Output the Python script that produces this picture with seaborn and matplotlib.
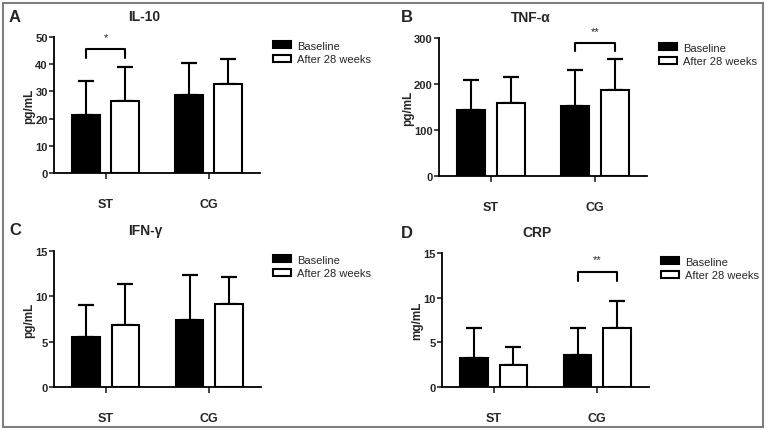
import pandas as pd
import matplotlib
matplotlib.use("Agg")
import matplotlib.pyplot as plt
import seaborn as sns
from matplotlib.patches import Rectangle

sns.set_style("white")
plt.rcParams['font.family'] = ['Liberation Sans', 'DejaVu Sans']

groups = ['ST', 'CG']
timepoints = ['Baseline', 'After 28 weeks']

# mean and SD per group, one list per time point
il10_base = [21.3, 28.5]
il10_after = [26.4, 32.6]
il10_base_sd = [12.5, 11.8]
il10_after_sd = [12.7, 9.2]

tnf_base = [143, 152]
tnf_after = [158, 188]
tnf_base_sd = [65, 78]
tnf_after_sd = [58, 67]

ifn_base = [5.5, 7.35]
ifn_after = [6.8, 9.1]
ifn_base_sd = [3.5, 5.0]
ifn_after_sd = [4.6, 3.0]

crp_base = [3.2, 3.6]
crp_after = [2.5, 6.6]
crp_base_sd = [3.4, 3.05]
crp_after_sd = [2.0, 3.0]

W, H = 767, 431
fig = plt.figure(figsize=(W / 100, H / 100), dpi=100)


def px_axes(left, top, right, bottom):
    return fig.add_axes([left / W, 1 - bottom / H, (right - left) / W, (bottom - top) / H])


panels = [
    # letter, title, ylabel, base, after, base_sd, after_sd, ymax, step, axes box px, legend px, title x, sig
    ('A', 'IL-10', 'pg/mL', il10_base, il10_after, il10_base_sd, il10_after_sd, 50, 10,
     (54, 38, 260, 174), (273, 41.5), 0.44, ('ST', '*', 42.4, 45.7, 50)),
    ('B', 'TNF-α', 'pg/mL', tnf_base, tnf_after, tnf_base_sd, tnf_after_sd, 300, 100,
     (439, 39, 647, 177), (659, 43.5), 0.44, ('CG', '**', 271, 288.5, 316)),
    ('C', 'IFN-γ', 'pg/mL', ifn_base, ifn_after, ifn_base_sd, ifn_after_sd, 15, 5,
     (54, 252, 261, 388), (273, 255.5), 0.44, None),
    ('D', 'CRP', 'mg/mL', crp_base, crp_after, crp_base_sd, crp_after_sd, 15, 5,
     (442, 254, 649, 388), (661, 257.5), 0.46, ('CG', '**', 11.9, 12.9, 14.3)),
]

for letter, title, ylab, base, after, base_sd, after_sd, ymax, step, box, leg, tx, sig in panels:
    ax = px_axes(*box)
    df = pd.DataFrame({
        'group': groups * 2,
        'time': [timepoints[0]] * 2 + [timepoints[1]] * 2,
        'value': base + after,
    })
    sns.barplot(data=df, x='group', y='value', hue='time', order=groups, hue_order=timepoints,
                palette={'Baseline': 'black', 'After 28 weeks': 'white'},
                edgecolor='black', linewidth=1.5, width=0.76, gap=0.3,
                errorbar=None, ax=ax, zorder=3)

    # upper-only SD error bars
    for cont, sds in zip(ax.containers, [base_sd, after_sd]):
        xs = [b.get_x() + b.get_width() / 2 for b in cont]
        ys = [b.get_height() for b in cont]
        ax.errorbar(xs, ys, yerr=[[0] * len(sds), sds], fmt='none', ecolor='black',
                    elinewidth=1.5, capsize=5.5, capthick=1.6, zorder=2, clip_on=False)

    if sig is not None:
        g, stars, low, high, sy = sig
        i = groups.index(g)
        b0 = ax.containers[0][i]
        b1 = ax.containers[1][i]
        x0 = b0.get_x() + b0.get_width() / 2
        x1 = b1.get_x() + b1.get_width() / 2
        ax.plot([x0, x0, x1, x1], [low, high, high, low], color='black', lw=1.5, clip_on=False)
        ax.text((x0 + x1) / 2, sy, stars, ha='center', va='center', fontsize=8, clip_on=False)

    ax.set_xlim(-0.5, 1.5)
    ax.set_ylim(0, ymax)
    ax.set_yticks(range(0, ymax + 1, step))
    ax.set_xlabel('')
    ax.set_ylabel(ylab, fontsize=8.5, fontweight='bold', labelpad=0)
    sns.despine(ax=ax)
    for s in ['left', 'bottom']:
        ax.spines[s].set_linewidth(1.3)
        ax.spines[s].set_color('black')
    ax.tick_params(axis='y', length=3.5, width=1.2, labelsize=8, pad=1, left=True)
    ax.tick_params(axis='x', length=4, width=1.2, labelsize=9, pad=14, bottom=True)
    for t in ax.get_xticklabels() + ax.get_yticklabels():
        t.set_fontweight('bold')

    ax.set_title(title, x=tx, pad=12, fontsize=10, fontweight='bold')
    fig.text((15 if box[0] < 300 else 407) / W, 1 - (box[1] - 21) / H, letter,
             ha='center', va='center', fontsize=12, fontweight='bold')

    ax.legend(loc='upper left', bbox_to_anchor=(leg[0] / W, 1 - leg[1] / H),
              bbox_transform=fig.transFigure, frameon=False, fontsize=8,
              borderpad=0, borderaxespad=0, handlelength=1.6, handleheight=0.65,
              handletextpad=0.55, labelspacing=0.35)

# grey frame around the whole figure
fig.patches.append(Rectangle((3 / W, 3 / H), 1 - 7 / W, 1 - 7 / H, transform=fig.transFigure,
                             fill=False, edgecolor='#7f7f7f', linewidth=1.5))

fig.savefig('out.png', dpi=100)
